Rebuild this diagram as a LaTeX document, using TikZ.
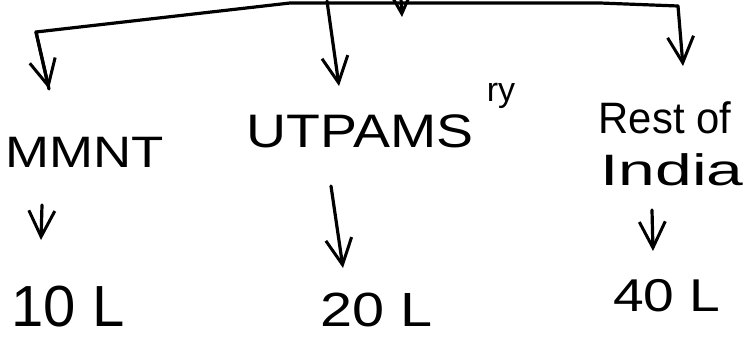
\documentclass[tikz,border=0pt]{standalone}
\usepackage{fontspec}
\setmainfont{Liberation Sans}
\usetikzlibrary{arrows.meta}
\begin{document}
\begin{tikzpicture}[x=1pt,y=-1pt,
  pen/.style={line width=3.2pt,line cap=round,line join=round,black},
  arr/.style={pen,-{Straight Barb[length=26pt,width=26pt,line width=3pt]}},
  lbl/.style={inner sep=0pt}]
\useasboundingbox (0,0) rectangle (756,349);
\fill[white] (0,0) rectangle (756,349);
\begin{scope}
\clip (0,0) rectangle (756,349);
% labels
\node[lbl,font=\fontsize{44}{48}\selectfont,xscale=1.2] (mmnt) at (85,152) {MMNT};
\node[lbl,font=\fontsize{47}{50}\selectfont,xscale=1.18] (utp) at (360,131) {UTPAMS};
\node[lbl,font=\fontsize{34}{36}\selectfont] (sup) at (501,96) {ry};
\node[lbl,font=\fontsize{44}{48}\selectfont,xscale=0.95] (rest) at (665,118) {Rest of};
\node[lbl,font=\fontsize{44}{48}\selectfont,xscale=1.5] (india) at (672,170) {India};
\node[lbl,font=\fontsize{58}{60}\selectfont] (v1) at (68,307) {10 L};
\node[lbl,font=\fontsize{48}{52}\selectfont,xscale=1.2] (v2) at (377,310) {20 L};
\node[lbl,font=\fontsize{46}{50}\selectfont,xscale=1.2] (v3) at (667,296) {40 L};
% top bracket
\coordinate (tl) at (36,32);
\coordinate (tm) at (290,3);
\coordinate (tc) at (327,1);
\coordinate (tr) at (600,3);
\coordinate (trr) at (678,6);
\coordinate (a1) at (49,89);
\coordinate (a2) at (339,86);
\coordinate (a3) at (683,66);
\coordinate (topin) at (400,-20);
\coordinate (topend) at (402,17);
\draw[pen] (a1) -- (tl) -- (tm) -- (tr) -- (trr);
\draw[arr] (tl) -- (a1);
\draw[arr] (tc) -- (a2);
\draw[arr] (trr) -- (a3);
\draw[arr] (topin) -- (topend);
% lower arrows
\coordinate (b1s) at (42,205);
\coordinate (b1e) at (41,240);
\coordinate (b2s) at (331,186);
\coordinate (b2e) at (343,268);
\coordinate (b3s) at (652,210);
\coordinate (b3e) at (653,251);
\draw[arr] (b1s) -- (b1e);
\draw[arr] (b2s) -- (b2e);
\draw[arr] (b3s) -- (b3e);
\end{scope}
\end{tikzpicture}
\end{document}
